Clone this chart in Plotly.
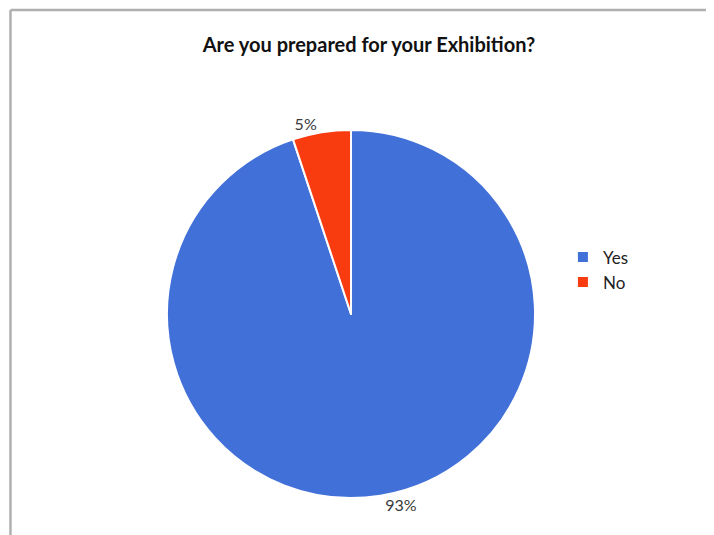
import plotly.graph_objects as go

categories = ["Yes", "No"]
values = [93, 5]
label_text = ["93%", "5%"]
colors = ["#4170d8", "#f93c10"]

FONT = "Lato, Open Sans, sans-serif"

fig = go.Figure(go.Pie(
    labels=categories,
    values=values,
    text=label_text,
    textinfo="text",
    textposition="outside",
    textfont=dict(family=FONT, size=16, color="#3a3a3a"),
    marker=dict(colors=colors, line=dict(color="white", width=2)),
    sort=False,
    direction="counterclockwise",
    rotation=0,
    domain=dict(x=[0.2252, 0.7465], y=[0.0702, 0.7685]),
    automargin=False,
    hoverinfo="label+percent",
))

fig.update_layout(
    width=706, height=527,
    margin=dict(l=0, r=0, t=0, b=0),
    paper_bgcolor="white",
    title=dict(text="<b>Are you prepared for your Exhibition?</b>",
               x=0.5113, xanchor="center", y=0.9298, yanchor="middle",
               font=dict(family=FONT, size=20, color="#111111")),
    legend=dict(x=0.786, y=0.503, xanchor="left", yanchor="middle",
                font=dict(family=FONT, size=17, color="#222222"),
                itemwidth=30),
    shapes=[
        dict(type="line", xref="paper", yref="paper", x0=0.0035, x1=1.0, y0=0.996, y1=0.996,
             line=dict(color="#b0b0b0", width=2.5)),
        dict(type="line", xref="paper", yref="paper", x0=0.0035, x1=0.0035, y0=0.0, y1=0.996,
             line=dict(color="#b0b0b0", width=2.5)),
    ],
)

fig.write_html("out.html")
